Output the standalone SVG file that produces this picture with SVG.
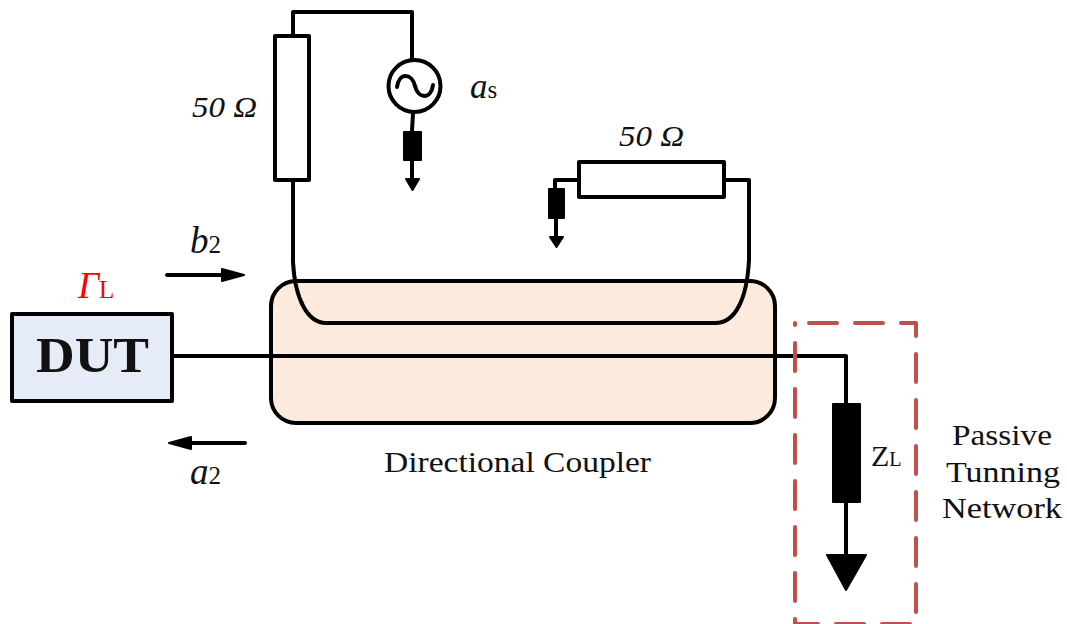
<svg xmlns="http://www.w3.org/2000/svg" width="1067" height="624" viewBox="0 0 1067 624">
<style>
.w{fill:none;stroke:#000;stroke-width:4;stroke-linejoin:round;stroke-linecap:round}
.k{fill:#000;stroke:#000;stroke-width:2;stroke-linejoin:round}
.o{fill:#fff;stroke:#000;stroke-width:4;stroke-linejoin:round}
text{font-family:"Liberation Serif","Times New Roman",serif;fill:#111}
.i{font-style:italic}
.l{font-size:30px}
.s{font-size:25px;font-style:normal}
</style>
<rect width="1067" height="624" fill="#fff"/>
<g id="coupler"><rect x="271" y="281" width="504" height="142" rx="25" ry="25" fill="#FCEADD" stroke="#000" stroke-width="4"/><text class="l" x="384" y="472" textLength="267" lengthAdjust="spacingAndGlyphs">Directional Coupler</text></g>
<g id="dut"><rect x="12" y="314" width="160" height="87" fill="#E6ECF7" stroke="#000" stroke-width="4" stroke-linejoin="round"/><text x="36" y="372" font-size="51" font-weight="700" textLength="113" lengthAdjust="spacingAndGlyphs">DUT</text></g>
<g id="connectors">
<path class="w" d="M293 36V12H412V60"/>
<path class="w" d="M293 180V262C295 300 308 323 326 323H715C736 323 747 298 749 260V180H725"/>
<path class="w" d="M579 180H555V188"/>
<path class="w" d="M413 113L412 131M412 161V180"/>
<path class="k" d="M406 179H419L412.500 190Z"/>
<path class="w" d="M556 218V237"/>
<path class="k" d="M550 237H563L556.500 247Z"/>
<path class="w" d="M172 356H846V404M846 502V556"/>
<path class="k" d="M827 555H866L846 590Z"/>
<path class="w" d="M167 275H222"/>
<path class="k" d="M222 269L244 275L222 281Z"/>
<path class="w" d="M245 443H190"/>
<path class="k" d="M191 437L169 443L191 449Z"/>
</g>
<g id="resistor-1"><rect class="o" x="275" y="36" width="34" height="144"/><text class="i" x="192" y="117" font-size="29" textLength="65" lengthAdjust="spacingAndGlyphs">50 Ω</text></g>
<g id="source"><circle cx="414.500" cy="86" r="26" fill="#fff" stroke="#000" stroke-width="4"/><path class="w" d="M397 87C399 72 412 73 415 86C418 99 431 100 433 85"/><text class="i" x="470" y="98" font-size="35">a<tspan class="s">s</tspan></text></g>
<g id="load-source"><rect class="k" x="404" y="132" width="17" height="28"/></g>
<g id="resistor-2"><rect class="o" x="579" y="162" width="145" height="35"/><text class="i" x="619" y="146" font-size="29" textLength="65" lengthAdjust="spacingAndGlyphs">50 Ω</text></g>
<g id="load-coupled"><rect class="k" x="549" y="189" width="15" height="29"/></g>
<g id="label-b2"><text class="i" x="190" y="253" font-size="37">b<tspan class="s">2</tspan></text></g>
<g id="label-a2"><text class="i" x="190" y="484" font-size="37">a<tspan class="s">2</tspan></text></g>
<g id="label-gamma"><text class="i" x="78" y="298" font-size="37" style="fill:#f00">Γ<tspan class="s" style="fill:#f00">L</tspan></text></g>
<g id="tuning-network">
<path fill="none" stroke="#C0504D" stroke-width="4" stroke-linecap="round" stroke-linejoin="round" stroke-dasharray="28 18" d="M809 323H916V624H795V323"/>
<rect class="k" x="833" y="404" width="27" height="98"/>
<text x="871" y="466" font-size="30">Z<tspan font-size="20">L</tspan></text>
<text class="l" x="952" y="445" textLength="100" lengthAdjust="spacingAndGlyphs">Passive</text>
<text class="l" x="946" y="482" textLength="114" lengthAdjust="spacingAndGlyphs">Tunning</text>
<text class="l" x="942" y="518" textLength="120" lengthAdjust="spacingAndGlyphs">Network</text>
</g>
</svg>
